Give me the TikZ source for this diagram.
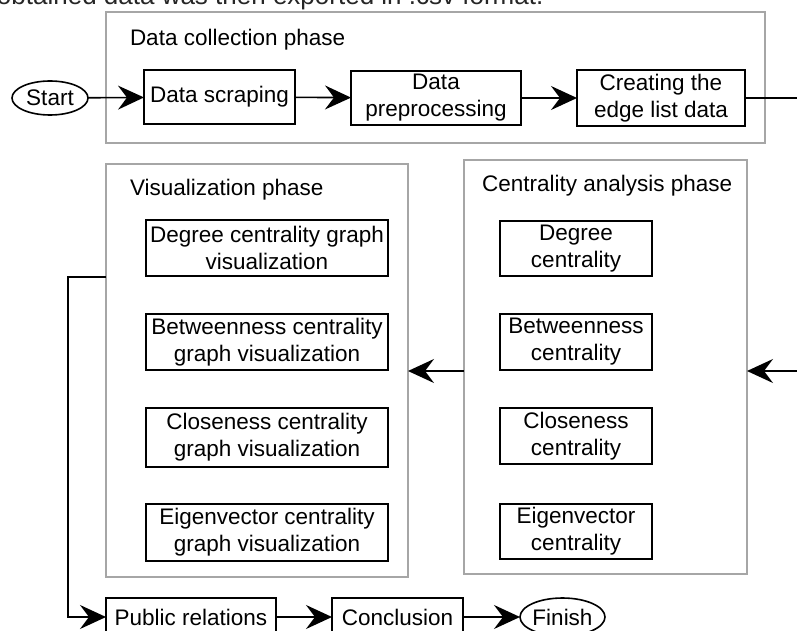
\documentclass[tikz,border=0pt]{standalone}
\usepackage{fontspec}
\setmainfont{Liberation Sans}
\usetikzlibrary{shapes.geometric,arrows.meta,calc}
\begin{document}
\begin{tikzpicture}[x=1pt,y=-1pt,
  every node/.style={inner sep=0pt, outer sep=0pt},
  txt/.style={font=\fontsize{22.5}{27}\selectfont, align=center},
  phase/.style={draw=black!35, line width=1.6pt, fill=none},
  stepbox/.style={txt, draw=black, line width=1.6pt, fill=white, rectangle},
  term/.style={txt, draw=black, line width=1.6pt, fill=white, ellipse},
  ttl/.style={font=\fontsize{22.5}{26}\selectfont, anchor=west},
  arr/.style={draw=black, line width=1.6pt, -{Stealth[length=26pt,width=24pt,inset=9pt]}},
  ln/.style={draw=black, line width=1.6pt}]
\useasboundingbox (0,0) rectangle (797,631);
\clip (0,0) rectangle (797,631);
\fill[white] (0,0) rectangle (797,631);

% cropped text line at top
\node[anchor=base west, font=\fontsize{26}{30}\selectfont, text=black!85] (toptext) at (-3,5) {obtained data was then exported in .csv format.};

% phase boxes
\node[phase, minimum width=659pt, minimum height=131pt] (dphase) at (435.5,77.5) {};
\node[phase, minimum width=283pt, minimum height=414pt] (cphase) at (605.5,367) {};
\node[phase, minimum width=302pt, minimum height=413pt] (vphase) at (257,370.5) {};

\node[ttl] (dtitle) at (130,40) {Data collection phase};
\node[ttl] (ctitle) at (482,186) {Centrality analysis phase};
\node[ttl] (vtitle) at (130,190) {Visualization phase};

% data collection
\node[term, minimum width=76pt, minimum height=34pt] (start) at (50,98) {Start};
\node[stepbox, minimum width=151pt, minimum height=54pt] (scrape) at (219.5,97) {Data scraping};
\node[stepbox, minimum width=170pt, minimum height=54pt] (prep) at (436,98) {Data\\preprocessing};
\node[stepbox, minimum width=168pt, minimum height=56pt] (edge) at (661,98) {Creating the\\edge list data};

% centrality
\node[stepbox, minimum width=152pt, minimum height=55pt] (cdeg) at (576,248.5) {Degree\\centrality};
\node[stepbox, minimum width=152pt, minimum height=56pt] (cbet) at (576,342) {Betweenness\\centrality};
\node[stepbox, minimum width=152pt, minimum height=56pt] (cclo) at (576,436) {Closeness\\centrality};
\node[stepbox, minimum width=152pt, minimum height=55pt] (ceig) at (576,531.5) {Eigenvector\\centrality};

% visualization
\node[stepbox, minimum width=242pt, minimum height=56pt] (vdeg) at (267,248) {Degree centrality graph\\visualization};
\node[stepbox, minimum width=242pt, minimum height=56pt] (vbet) at (267,342) {Betweenness centrality\\graph visualization};
\node[stepbox, minimum width=242pt, minimum height=59pt] (vclo) at (267,437.5) {Closeness centrality\\graph visualization};
\node[stepbox, minimum width=242pt, minimum height=57pt] (veig) at (267,532.5) {Eigenvector centrality\\graph visualization};

% bottom row
\node[stepbox, minimum width=170pt, minimum height=38pt] (pr) at (191,617) {Public relations};
\node[stepbox, minimum width=131pt, minimum height=38pt] (concl) at (397.5,617) {Conclusion};
\node[term, minimum width=85pt, minimum height=38pt] (finish) at (562.5,617) {Finish};

% connectors
\draw[arr] (start) -- (scrape);
\draw[arr] (scrape) -- (prep);
\draw[arr] (prep) -- (edge);
\coordinate (rc) at (815,371);
\draw[arr] (edge.east) -| (rc) -- (rc -| cphase.east);
\draw[arr] (rc -| cphase.west) -- (rc -| vphase.east);
\coordinate (lv) at (68,277);
\draw[arr] (lv -| vphase.west) -- (lv) |- (pr.west);
\draw[arr] (pr) -- (concl);
\draw[arr] (concl) -- (finish);
\end{tikzpicture}
\end{document}
